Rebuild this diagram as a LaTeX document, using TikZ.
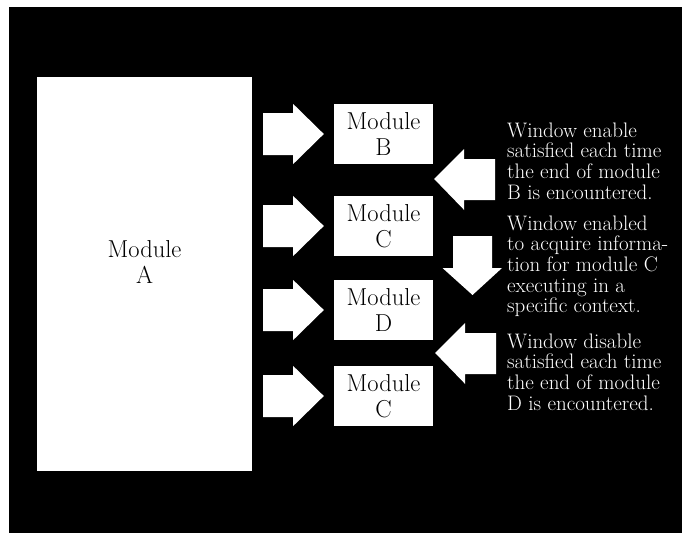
\documentclass[tikz,border=0pt]{standalone}
\usetikzlibrary{calc}
\tikzset{
  modbox/.style={fill=white, minimum width=99pt, minimum height=60pt, inner sep=0pt,
    align=center, font=\fontsize{24.5}{26}\selectfont},
  note/.style={anchor=north west, inner sep=0pt, align=left, text=white,
    font=\fontsize{21}{20.7}\selectfont},
}
\begin{document}
\begin{tikzpicture}[x=1pt, y=-1pt, line join=miter]
		\useasboundingbox (0,0) rectangle (685,533);
		\fill[black] (9,7) rectangle (682,533);
		% modules
		\node[modbox, minimum width=215pt, minimum height=394pt] (modA) at (144.5,274) {};
		\node[modbox] (labA) at ([yshift=12pt]modA.center) {Module\\A};
		\node[modbox] (modB) at (383.5,134) {Module\\B};
		\node[modbox] (modC) at (383.5,226) {Module\\C};
		\node[modbox] (modD) at (383.5,310) {Module\\D};
		\node[modbox] (modCC) at (383.5,396) {Module\\C};
		% arrows from A
		\foreach \m in {modB,modC,modD,modCC}
			\fill[white] ($(modA.east|-\m)+(11,-21)$) -- ++(30,0) -- ++(0,-9)
				-- ($(\m.west)+(-10,0)$) -- ($(modA.east|-\m)+(41,30)$) -- ++(0,-9)
				-- ++(-30,0) -- cycle;
		% window arrows
		\coordinate (gapBC) at ($(modB.south east)!0.5!(modC.north east)+(1,-1)$);
		\coordinate (gapDC) at ($(modD.south east)!0.5!(modCC.north east)+(2,0)$);
		\foreach \g in {gapBC,gapDC}
			\fill[white] (\g) -- ++(30,-30) -- ++(0,10) -- ++(31,0) -- ++(0,41)
				-- ++(-31,0) -- ++(0,10) -- cycle;
		\coordinate (down) at (472.5,236);
		\fill[white] ($(down)+(-19.5,0)$) -- ++(39,0) -- ++(0,32) -- ++(10,0)
			-- ($(down)+(0,59)$) -- ($(down)+(-30,32)$) -- ++(10.5,0) -- cycle;
		% notes
		\node[note] (noteB) at (507,122.4) {Window enable\\satisfied each time\\the end of module\\B is encountered.};
		\node[note] (noteC) at (507,215.4) {Window enabled\\to acquire informa-\\tion for module C\\executing in a\\specific context.};
		\node[note] (noteD) at (507,333.4) {Window disable\\satisfied each time\\the end of module\\D is encountered.};
\end{tikzpicture}
\end{document}
